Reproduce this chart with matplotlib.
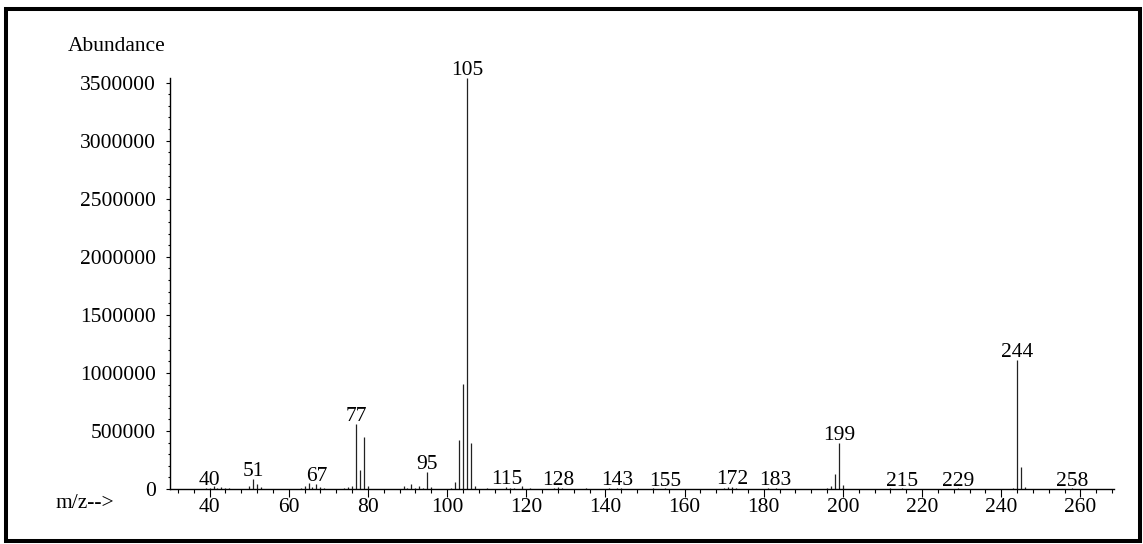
import matplotlib
matplotlib.use('Agg')
import matplotlib.pyplot as plt
from matplotlib.ticker import MultipleLocator, FuncFormatter
from matplotlib.patches import Rectangle

plt.rcParams['font.family'] = ['Liberation Serif', 'DejaVu Serif']

# mass spectrum
mz = [39, 40, 41, 42, 43, 44, 45,
      50, 51, 52, 53,
      63, 64, 65, 66, 67, 68, 69,
      74, 75, 76, 77, 78, 79, 80,
      89, 90, 91, 92, 93, 94, 95, 96,
      101, 102, 103, 104, 105, 106, 107,
      110, 115, 116, 117, 119, 121,
      127, 128, 129, 135, 141, 143, 144,
      152, 155, 165, 170, 171, 172, 173,
      181, 183, 196, 197, 198, 199, 200,
      212, 215, 227, 229,
      243, 244, 245, 246, 258]

abundance = [6000, 12000, 30000, 10000, 20000, 8000, 10000,
             30000, 85000, 45000, 20000,
             8000, 30000, 55000, 20000, 45000, 15000, 8000,
             10000, 18000, 25000, 560000, 165000, 448000, 30000,
             30000, 12000, 40000, 10000, 22000, 12000, 145000, 20000,
             10000, 60000, 422000, 905000, 3540000, 400000, 22000,
             6000, 15000, 8000, 10000, 28000, 12000,
             8000, 14000, 6000, 5000, 8000, 12000, 5000,
             5000, 6000, 4000, 12000, 20000, 15000, 6000,
             5000, 8000, 8000, 30000, 130000, 400000, 35000,
             6000, 5000, 4000, 5000,
             6000, 1112000, 190000, 20000, 5000]

labelled = [40, 51, 67, 77, 95, 105, 115, 128, 143, 155, 172, 183,
            199, 215, 229, 244, 258]

W, H = 1143, 544
FS = 15.5


def draw_spectrum():
    fig = plt.figure(figsize=(W / 100, H / 100), dpi=100)
    ax = fig.add_axes([170 / W, 55 / H, 944 / W, 411 / H])

    ax.vlines(mz, 0, abundance, colors='#222222', linewidth=0.9)

    for m in labelled:
        ab = abundance[mz.index(m)]
        ax.annotate(str(m), (m, ab), xytext=(0, 2), textcoords='offset points',
                    ha='center', va='baseline', fontsize=FS)

    ax.set_xlim(30, 268.5)
    ax.set_ylim(0, max(abundance))

    for side in ['top', 'right']:
        ax.spines[side].set_visible(False)
    for side in ['left', 'bottom']:
        ax.spines[side].set_linewidth(1.0)

    ax.xaxis.set_major_locator(MultipleLocator(20))
    ax.xaxis.set_minor_locator(MultipleLocator(4))
    ax.yaxis.set_major_locator(MultipleLocator(500000))
    ax.yaxis.set_minor_locator(MultipleLocator(100000))
    ax.yaxis.set_major_formatter(FuncFormatter(lambda v, p: '%d' % round(v)))

    ax.tick_params(axis='x', which='major', length=5.5, width=0.8, pad=1, labelsize=FS)
    ax.tick_params(axis='x', which='minor', length=3.2, width=0.8)
    ax.tick_params(axis='y', which='major', length=3, width=0.8, pad=7, labelsize=FS)
    ax.tick_params(axis='y', which='minor', length=1.5, width=0.8)

    fig.text(68 / W, (H - 51) / H, 'Abundance', fontsize=FS, va='baseline', ha='left')
    fig.text(55 / W, (H - 508) / H, 'm/z-->', fontsize=FS, va='baseline', ha='left')

    # heavy outer frame
    fig.patches.append(Rectangle((5.5 / W, 3.5 / H), 1134 / W, 531.5 / H,
                                 transform=fig.transFigure, fill=False,
                                 edgecolor='black', linewidth=2.9))

    fig.savefig('out.png', dpi=100)


draw_spectrum()
